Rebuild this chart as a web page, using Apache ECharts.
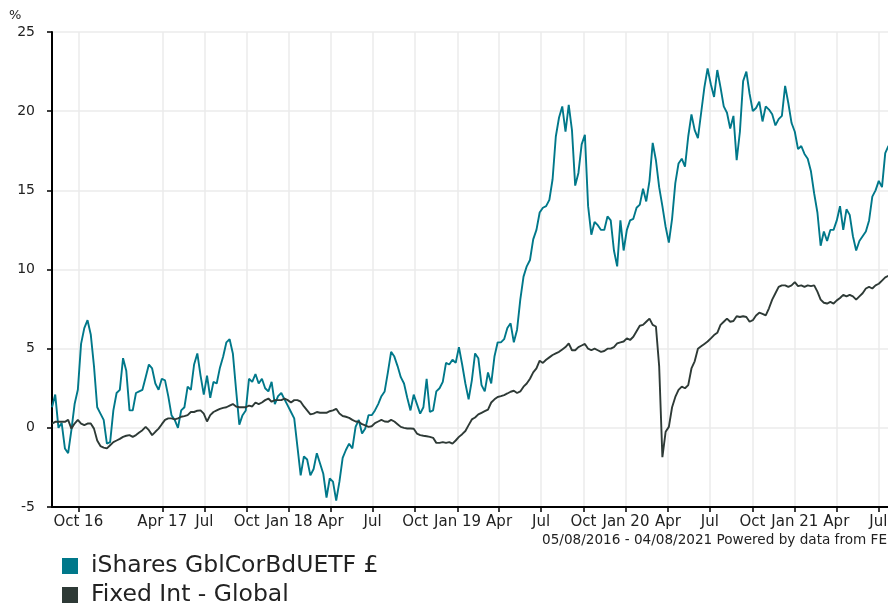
<!DOCTYPE html>
<html><head><meta charset="utf-8">
<script src="https://cdn.jsdelivr.net/npm/echarts@6/dist/echarts.min.js"></script>
<style>html,body{margin:0;padding:0;background:#fff}#c{width:888px;height:603px}</style>
</head><body><div id="c"></div>
<script>
const startDate = '2016-08-05';
const endDate = '2021-08-04';
const fundName = 'iShares GblCorBdUETF £';
const sectorName = 'Fixed Int - Global';
// weekly readings from startDate, last value at endDate (cumulative % performance)
const fundValues = [
 1.3, 2.1, 0.0, 0.3, -1.3, -1.6, -0.15, 1.5, 2.4, 5.3,
 6.3, 6.8, 5.9, 3.9, 1.3, 0.9, 0.5, -1.0, -0.9, 1.1,
 2.2, 2.4, 4.4, 3.6, 1.1, 1.1, 2.2, 2.3, 2.4, 3.2,
 4.0, 3.75, 2.8, 2.4, 3.1, 3.0, 2.0, 0.8, 0.5, 0.0,
 1.1, 1.3, 2.6, 2.4, 4.0, 4.7, 3.3, 2.1, 3.3, 1.9,
 2.9, 2.8, 3.8, 4.5, 5.4, 5.6, 4.7, 2.4, 0.2, 0.8,
 1.1, 3.1, 2.9, 3.4, 2.8, 3.1, 2.5, 2.3, 2.9, 1.5,
 2.0, 2.2, 1.8, 1.4, 1.0, 0.6, -1.2, -3.0, -1.8, -2.0,
 -3.0, -2.6, -1.6, -2.25, -2.9, -4.4, -3.2, -3.4, -4.6, -3.4,
 -1.9, -1.4, -1.0, -1.3, 0.06, 0.5, -0.36, -0.04, 0.8, 0.8,
 1.1, 1.5, 2.0, 2.3, 3.5, 4.8, 4.5, 3.9, 3.2, 2.8,
 1.9, 1.1, 2.1, 1.5, 0.9, 1.3, 3.1, 1.0, 1.1, 2.3,
 2.5, 2.9, 4.1, 4.0, 4.3, 4.1, 5.1, 4.0, 2.8, 1.8,
 3.0, 4.7, 4.4, 2.7, 2.3, 3.5, 2.8, 4.5, 5.4, 5.4,
 5.6, 6.3, 6.6, 5.4, 6.2, 8.1, 9.55, 10.2, 10.6, 11.9,
 12.5, 13.6, 13.9, 14.0, 14.4, 15.7, 18.4, 19.6, 20.3, 18.7,
 20.4, 18.8, 15.3, 16.1, 17.9, 18.5, 14.0, 12.2, 13.0, 12.8,
 12.5, 12.5, 13.35, 13.1, 11.2, 10.2, 13.1, 11.2, 12.5, 13.1,
 13.2, 13.9, 14.1, 15.1, 14.3, 15.6, 18.0, 16.9, 15.2, 14.0,
 12.7, 11.7, 13.2, 15.45, 16.7, 17.0, 16.5, 18.4, 19.8, 18.8,
 18.3, 19.9, 21.5, 22.7, 21.7, 20.9, 22.6, 21.5, 20.3, 19.9,
 18.9, 19.7, 16.9, 18.7, 21.9, 22.5, 21.1, 20.0, 20.2, 20.6,
 19.35, 20.3, 20.1, 19.8, 19.1, 19.5, 19.7, 21.6, 20.5, 19.25,
 18.7, 17.6, 17.8, 17.3, 17.0, 16.2, 14.8, 13.6, 11.5, 12.4,
 11.8, 12.5, 12.5, 13.1, 14.0, 12.5, 13.8, 13.45, 12.1, 11.2,
 11.8, 12.1, 12.4, 13.1, 14.6, 15.0, 15.6, 15.2, 17.35, 17.8,
 17.5, 17.6
];
const sectorValues = [
 0.27, 0.38, 0.38, 0.38, 0.38, 0.5, -0.05, 0.27, 0.5, 0.27,
 0.17, 0.27, 0.27, -0.05, -0.8, -1.15, -1.25, -1.3, -1.1, -0.9,
 -0.8, -0.7, -0.57, -0.5, -0.46, -0.57, -0.46, -0.3, -0.15, 0.06,
 -0.15, -0.46, -0.25, -0.05, 0.23, 0.5, 0.6, 0.6, 0.53, 0.6,
 0.7, 0.74, 0.8, 1.0, 1.0, 1.08, 1.1, 0.9, 0.4, 0.8,
 1.0, 1.1, 1.2, 1.26, 1.3, 1.4, 1.5, 1.35, 1.3, 1.3,
 1.3, 1.4, 1.35, 1.6, 1.5, 1.6, 1.75, 1.85, 1.65, 1.75,
 1.75, 1.75, 1.85, 1.75, 1.6, 1.75, 1.75, 1.65, 1.35, 1.1,
 0.85, 0.9, 1.0, 0.95, 0.95, 0.95, 1.05, 1.1, 1.2, 0.9,
 0.75, 0.7, 0.63, 0.5, 0.4, 0.38, 0.23, 0.15, 0.06, 0.1,
 0.3, 0.4, 0.5, 0.4, 0.38, 0.5, 0.4, 0.23, 0.06, 0.0,
 -0.04, -0.04, -0.06, -0.36, -0.46, -0.5, -0.53, -0.57, -0.63, -0.95,
 -0.95, -0.9, -0.95, -0.9, -1.0, -0.8, -0.57, -0.4, -0.2, 0.17,
 0.53, 0.65, 0.85, 0.95, 1.05, 1.15, 1.6, 1.8, 1.95, 2.0,
 2.07, 2.17, 2.28, 2.34, 2.2, 2.3, 2.6, 2.8, 3.1, 3.5,
 3.75, 4.24, 4.1, 4.3, 4.45, 4.6, 4.7, 4.8, 4.95, 5.1,
 5.33, 4.9, 4.9, 5.1, 5.2, 5.3, 5.0, 4.9, 5.0, 4.9,
 4.8, 4.85, 5.0, 5.0, 5.1, 5.33, 5.4, 5.45, 5.65, 5.55,
 5.75, 6.1, 6.45, 6.5, 6.7, 6.9, 6.5, 6.4, 3.9, -1.85,
 -0.25, 0.06, 1.3, 1.95, 2.4, 2.6, 2.5, 2.7, 3.75, 4.2,
 5.0, 5.15, 5.3, 5.45, 5.65, 5.86, 6.0, 6.5, 6.7, 6.9,
 6.7, 6.75, 7.05, 7.0, 7.05, 7.0, 6.7, 6.8, 7.1, 7.27,
 7.2, 7.1, 7.55, 8.1, 8.5, 8.9, 9.0, 9.0, 8.9, 9.0,
 9.2, 8.95, 9.0, 8.9, 9.0, 8.95, 9.0, 8.6, 8.1, 7.9,
 7.85, 7.95, 7.85, 8.05, 8.2, 8.4, 8.3, 8.4, 8.3, 8.1,
 8.3, 8.5, 8.8, 8.9, 8.8, 9.0, 9.1, 9.3, 9.5, 9.6,
 9.65, 9.7
];
const tickDates = ['2016-10-01','2017-04-01','2017-07-01','2017-10-01','2018-01-01','2018-04-01','2018-07-01','2018-10-01','2019-01-01','2019-04-01','2019-07-01','2019-10-01','2020-01-01','2020-04-01','2020-07-01','2020-10-01','2021-01-01','2021-04-01','2021-07-01'];
const tickLabels = ['Oct 16','Apr 17','Jul','Oct','Jan 18','Apr','Jul','Oct','Jan 19','Apr','Jul','Oct','Jan 20','Apr','Jul','Oct','Jan 21','Apr','Jul'];
const yMin = -5, yMax = 25, yStep = 5;
const footerText = '05/08/2016 - 04/08/2021 Powered by data from FE';

function ts(s){ const p = s.split('-').map(Number); return new Date(p[0], p[1]-1, p[2]).getTime(); }
const startTs = ts(startDate), endTs = ts(endDate);
const dates = fundValues.map((_, i) => {
  if (i === fundValues.length - 1) return endTs;
  const d = new Date(startTs); d.setDate(d.getDate() + 7 * i); return d.getTime();
});
const tickTs = tickDates.map(ts);
function labelFor(v){
  let best = 0, bd = Infinity;
  tickTs.forEach((t, i) => { const dd = Math.abs(t - v); if (dd < bd) { bd = dd; best = i; } });
  return bd < 86400000 ? tickLabels[best] : '';
}

const FONT = 'DejaVu Sans';
const TEAL = '#00788A', DARK = '#2E3A36';
const chart = echarts.init(document.getElementById('c'), null, {renderer: 'canvas'});
chart.setOption({
  animation: false,
  backgroundColor: '#ffffff',
  grid: {left: 52, top: 32, width: 842, height: 475, containLabel: false, outerBoundsMode: 'none'},
  legend: {
    data: [fundName, sectorName], orient: 'vertical', left: 57, top: 549, height: 90,
    icon: 'rect', itemWidth: 16, itemHeight: 16, itemGap: 5,
    textStyle: {fontFamily: FONT, fontSize: 23.5, color: '#222', padding: [0, 0, 0, 8]}
  },
  xAxis: {
    type: 'value', min: startTs, max: endTs, scale: true,
    axisLine: {show: true, onZero: false, lineStyle: {color: '#000', width: 2}},
    axisTick: {show: true, customValues: tickTs, length: 5, lineStyle: {color: '#000', width: 1.5}},
    axisLabel: {customValues: tickTs, formatter: v => labelFor(v), fontFamily: FONT, fontSize: 15, color: '#222', margin: 8, hideOverlap: false},
    splitLine: {show: true, lineStyle: {color: '#ebebeb', width: 1.5}}
  },
  yAxis: {
    type: 'value', min: yMin, max: yMax, interval: yStep,
    axisLine: {show: true, lineStyle: {color: '#000', width: 2}},
    axisTick: {show: true, length: 5, lineStyle: {color: '#000', width: 1.5}},
    axisLabel: {fontFamily: FONT, fontSize: 14, color: '#222', margin: 17},
    splitLine: {show: true, lineStyle: {color: '#ebebeb', width: 1.5}}
  },
  graphic: [
    {type: 'text', left: 9, top: 9, style: {text: '%', font: '13px "DejaVu Sans"', fill: '#222'}},
    {type: 'text', left: 542, top: 533, style: {text: footerText, font: '13.6px "DejaVu Sans"', fill: '#222'}}
  ],
  series: [
    {name: fundName, type: 'line', showSymbol: false, symbol: 'none', color: TEAL,
     lineStyle: {color: TEAL, width: 1.9}, data: dates.map((d, i) => [d, fundValues[i]])},
    {name: sectorName, type: 'line', showSymbol: false, symbol: 'none', color: DARK,
     lineStyle: {color: DARK, width: 1.9}, data: dates.map((d, i) => [d, sectorValues[i]])}
  ]
});
</script></body></html>
